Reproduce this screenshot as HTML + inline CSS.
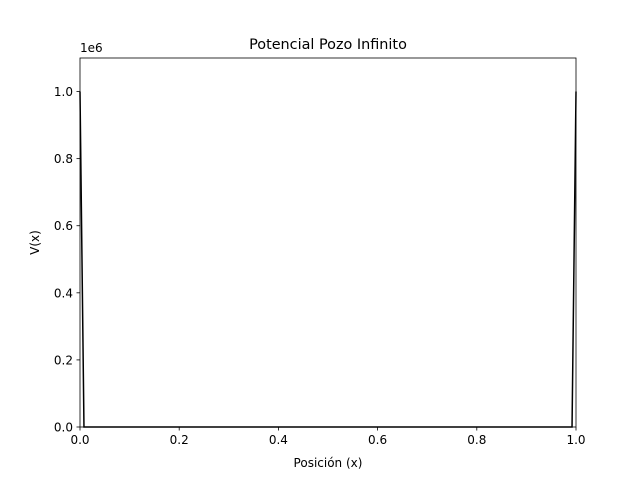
<!DOCTYPE html>
<html><head><meta charset="utf-8"><style>
html,body{margin:0;padding:0;background:#fff;}
svg text{font-family:"DejaVu Sans","Liberation Sans",sans-serif;fill:#000;}
</style></head><body>
<svg id="chart" width="640" height="480" xmlns="http://www.w3.org/2000/svg">
<rect width="640" height="480" fill="#fff"/>
<g id="plot"></g>
<text x="328" y="49" font-size="14.4" text-anchor="middle">Potencial Pozo Infinito</text>
<text x="328" y="467" font-size="12" text-anchor="middle">Posición (x)</text>
<text x="39" y="242.5" font-size="12" text-anchor="middle" transform="rotate(-90 39 242.5)">V(x)</text>
<text x="80" y="52" font-size="12">1e6</text>
</svg>
<script>
const xs = [0, 0.008, 0.992, 1];
const vs = [1000000, 0, 0, 1000000];
const xTicks = [0, 0.2, 0.4, 0.6, 0.8, 1.0];
const xTickLabels = ["0.0","0.2","0.4","0.6","0.8","1.0"];
const yTicks = [0, 0.2e6, 0.4e6, 0.6e6, 0.8e6, 1.0e6];
const yTickLabels = ["0.0","0.2","0.4","0.6","0.8","1.0"];

const L=80,R=576,T=58,B=427;
const xmin=0,xmax=1,ymin=0,ymax=1.1e6;
const sx=v=>L+(v-xmin)/(xmax-xmin)*(R-L);
const sy=v=>B-(v-ymin)/(ymax-ymin)*(B-T);
const NS="http://www.w3.org/2000/svg";
const g=document.getElementById('plot');
function mk(t,a){const e=document.createElementNS(NS,t);for(const k in a)e.setAttribute(k,a[k]);return e;}

const line=mk('polyline',{points:xs.map((x,i)=>sx(x)+','+sy(vs[i])).join(' '),fill:'none',stroke:'#000','stroke-width':1.5});


g.appendChild(line);

xTicks.forEach((t,i)=>{
  const x=sx(t);
  const tk=mk('line',{x1:x,x2:x,y1:B,y2:B+3.5,stroke:'#000','stroke-width':0.8});
  
  
  g.appendChild(tk);
  const lb=mk('text',{x:x,y:B+17,'font-size':12,'text-anchor':'middle'});
  lb.textContent=xTickLabels[i];
  
  
  g.appendChild(lb);
});
yTicks.forEach((t,i)=>{
  const y=sy(t);
  const tk=mk('line',{x1:L-3.5,x2:L,y1:y,y2:y,stroke:'#000','stroke-width':0.8});
  
  
  g.appendChild(tk);
  const lb=mk('text',{x:L-7,y:y+4.5,'font-size':12,'text-anchor':'end'});
  lb.textContent=yTickLabels[i];
  
  
  g.appendChild(lb);
});
const frame=mk('rect',{x:L,y:T,width:R-L,height:B-T,fill:'none',stroke:'#000','stroke-width':0.8});


g.appendChild(frame);
</script>
</body></html>
